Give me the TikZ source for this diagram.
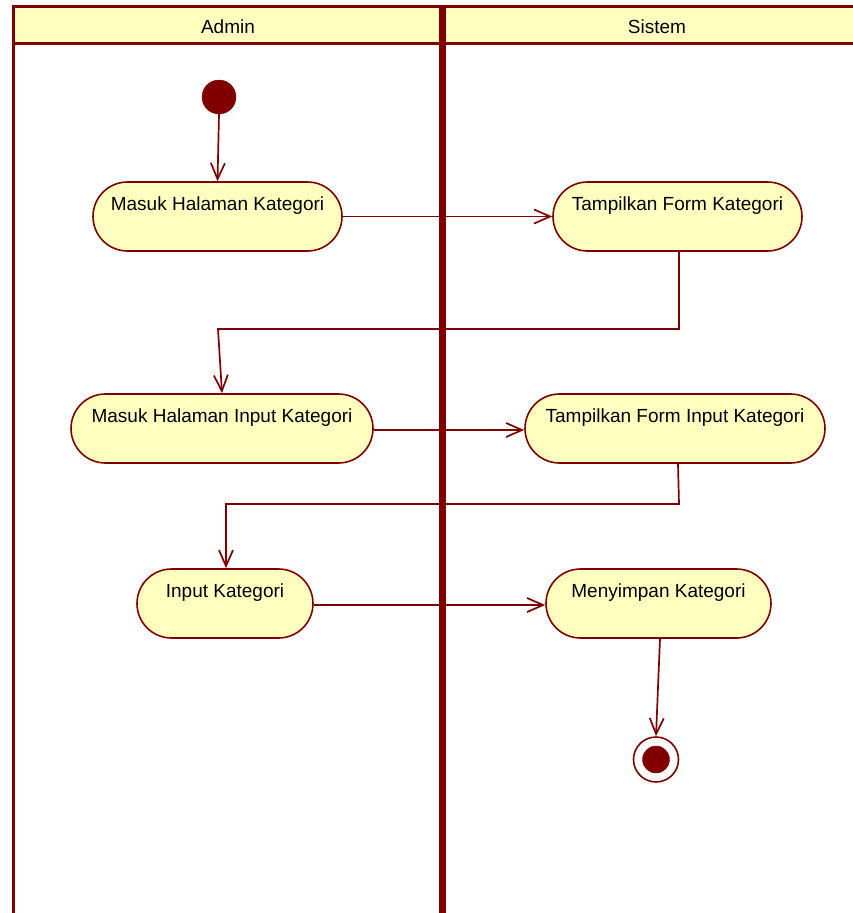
\documentclass[tikz,border=0pt]{standalone}
\usepackage{fontspec}
\setmainfont{Liberation Sans}
\usetikzlibrary{arrows.meta}
\definecolor{umlred}{RGB}{128,0,0}
\definecolor{umlfill}{RGB}{255,255,192}
\begin{document}
\begin{tikzpicture}[x=1pt,y=-1pt,
    every node/.style={font=\fontsize{19}{22}\selectfont},
    act/.style={draw=umlred,fill=umlfill,line width=1.6pt,rounded corners=34.5pt,
        minimum height=69pt,text height=14pt,text depth=26pt,inner sep=0pt},
    flow/.style={draw=umlred,line width=1.7pt,-{Straight Barb[length=16pt,width=14pt,line width=1.7pt]}},
    lane/.style={draw=umlred,line width=3pt}]
        \useasboundingbox (0,0) rectangle (853,913);
        \fill[umlfill] (13,7) rectangle (853,44);
        \draw[lane] (853,6.5) -- (13,6.5) -- (13,913);
        \draw[lane] (13,43.5) -- (853,43.5);
        \draw[umlred,line width=7pt] (442,5) -- (442,913);
        \node (admin) at (228,27) {Admin};
        \node (sistem) at (657,27) {Sistem};
        \filldraw[umlred] (219,97) circle (17pt);
        \coordinate (start) at (219,114);
        \node[act,minimum width=249pt] (masuk) at (217.5,216.5) {Masuk Halaman Kategori};
        \node[act,minimum width=249pt] (tampil) at (677.5,216.5) {Tampilkan Form Kategori};
        \node[act,minimum width=302pt] (masukinput) at (222,428.5) {Masuk Halaman Input Kategori};
        \node[act,minimum width=300pt] (tampilinput) at (675,428.5) {Tampilkan Form Input Kategori};
        \node[act,minimum width=176pt] (input) at (225,603.5) {Input Kategori};
        \node[act,minimum width=225pt] (simpan) at (658.5,603.5) {Menyimpan Kategori};
        \node[circle,draw=umlred,line width=1.6pt,minimum size=45pt,inner sep=0pt] (end) at (656,759.5) {};
        \filldraw[umlred] (end) circle (13.5pt);
        \coordinate (b1) at (218,329);
        \coordinate (b2) at (679,504);
        \coordinate (b3) at (226,504);
        \draw[flow] (start) -- (masuk.north);
        \draw[flow] (masuk.east) -- (tampil.west);
        \draw[flow] ([xshift=1.5pt]tampil.south) |- (b1) -- (masukinput.north);
        \draw[flow] ([yshift=-1.5pt]masukinput.east) -- ([yshift=-1.5pt]tampilinput.west);
        \draw[flow] ([xshift=3pt]tampilinput.south) -- (b2) -- (b3) -- (input.north -| b3);
        \draw[flow] ([yshift=-1.5pt]input.east) -- ([yshift=-1.5pt]simpan.west);
        \draw[flow] ([xshift=1.5pt]simpan.south) -- (end.north);
    \end{tikzpicture}
\end{document}
